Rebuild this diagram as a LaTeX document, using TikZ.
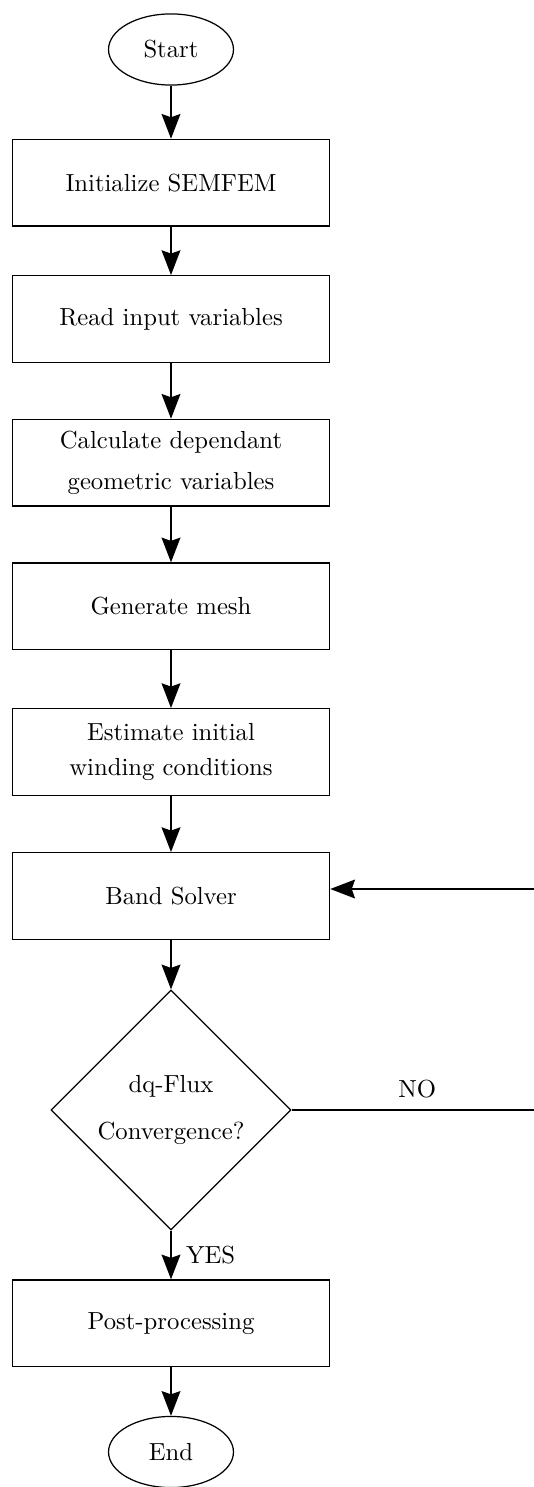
\documentclass[tikz,border=0pt]{standalone}
\usetikzlibrary{shapes.geometric,arrows.meta}
\begin{document}
\begin{tikzpicture}[x=0.405pt,y=-0.405pt,
  procbox/.style={draw,line width=0.5pt,rectangle,minimum width=128.5pt,minimum height=35.1pt,inner sep=0pt,align=center},
  termnode/.style={draw,line width=0.5pt,ellipse,minimum width=50.6pt,minimum height=28.8pt,inner sep=0pt},
  decnode/.style={draw,line width=0.5pt,diamond,aspect=1,minimum width=97.2pt,minimum height=97.2pt,inner sep=0pt,align=center},
  flow/.style={line width=0.8pt,-{Stealth[length=10pt,width=7.6pt,inset=1.3pt]}},
  plainline/.style={line width=0.8pt}]
\useasboundingbox (0,0) rectangle (534,1487);
\node[termnode] (start) at (171,49.5) {Start};
\node[procbox] (init) at (171,182.7) {Initialize SEMFEM};
\node[procbox] (read) at (171,319) {Read input variables};
\node[procbox] (calc) at (171,462.7) {Calculate dependant\\[4.7pt]geometric variables};
\node[procbox] (mesh) at (171,606.3) {Generate mesh};
\node[procbox] (est) at (171,752) {Estimate initial\\[1.9pt]winding conditions};
\node[procbox] (band) at (171,896) {Band Solver};
\node[decnode] (conv) at (171,1110) {dq-Flux\\[7pt]Convergence?};
\node[procbox] (post) at (171,1323.3) {Post-processing};
\node[termnode] (stop) at (171,1452) {End};
% main sequence
\draw[flow] (start) -- (init);
\draw[flow] (init) -- (read);
\draw[flow] (read) -- (calc);
\draw[flow] (calc) -- (mesh);
\draw[flow] (mesh) -- (est);
\draw[flow] (est) -- (band);
\draw[flow] (band) -- (conv);
\draw[flow] (conv) -- node[right,inner xsep=5.7pt]{YES} (post);
\draw[flow] (post) -- (stop);
% feedback loop back to the solver
\coordinate (loopA) at (543,1110);
\coordinate (loopB) at (543,889);
\draw[plainline] (conv.east) -- node[above,inner ysep=4.4pt]{NO} (loopA) -- (loopB);
\draw[flow] (loopB) -- (loopB -| band.east);
\end{tikzpicture}
\end{document}
